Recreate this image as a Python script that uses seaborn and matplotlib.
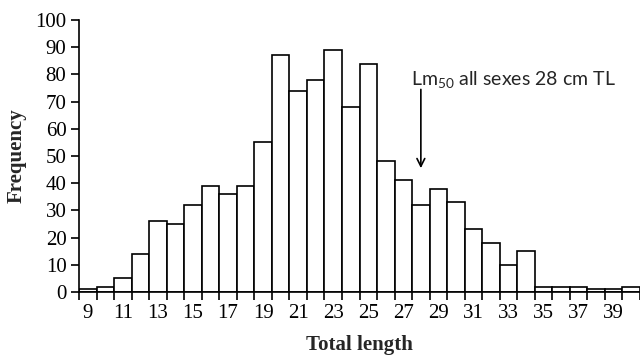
import matplotlib
matplotlib.use("Agg")
import matplotlib.pyplot as plt
import seaborn as sns
import pandas as pd
import numpy as np

lengths = list(range(9, 41))
frequency = [1, 2, 5, 14, 26, 25, 32, 39, 36, 39, 55, 87, 74, 78, 89, 68,
             84, 48, 41, 32, 38, 33, 23, 18, 10, 15, 2, 2, 2, 1, 1, 2]
tick_labels = [str(v) for v in range(9, 41, 2)]
annot_category = 28
annot_text = r"Lm$_{50}$ all sexes 28 cm TL"

sns.set_theme(style="white")
plt.rcParams['font.family'] = ['Liberation Serif', 'DejaVu Serif']
plt.rcParams['mathtext.fontset'] = 'custom'
plt.rcParams['mathtext.rm'] = 'Lato'
plt.rcParams['mathtext.it'] = 'Lato'

df = pd.DataFrame({"length": [str(v) for v in lengths], "freq": frequency})

fig = plt.figure(figsize=(6.4, 3.56), dpi=100)
ax = fig.add_axes([79/640, 1-292/356, 1-79/640, (292-20)/356])
sns.barplot(data=df, x="length", y="freq", order=[str(v) for v in lengths],
            color="white", edgecolor="black", linewidth=1.2, width=1.0,
            saturation=1, ax=ax)
for p in ax.patches:
    p.set_facecolor("white")

ax.set_xlim(-0.5, len(lengths) - 0.5)
ax.set_ylim(0, 100)
ax.set_yticks(np.arange(0, 101, 10))
major_pos = [lengths.index(int(t)) for t in tick_labels]
ax.set_xticks(major_pos)
ax.set_xticklabels(tick_labels)
ax.set_xticks(np.arange(-0.5, len(lengths), 1.0), minor=True)
ax.tick_params(axis="x", which="major", length=0, pad=9, labelsize=15, colors="black")
ax.tick_params(axis="x", which="minor", length=6, width=1.2, direction="out",
               bottom=True, color="black")
ax.tick_params(axis="y", which="major", length=6, width=1.2, direction="out",
               left=True, labelsize=15, pad=3, colors="black")
for s in ["top", "right"]:
    ax.spines[s].set_visible(False)
for s in ["left", "bottom"]:
    ax.spines[s].set_color("black")
    ax.spines[s].set_linewidth(1.2)

ax.set_xlabel("Total length", fontsize=15, fontweight="bold", labelpad=8)
ax.set_ylabel("Frequency", fontsize=15, fontweight="bold", labelpad=6)

xi = lengths.index(annot_category)
ax.annotate("", xy=(xi, 44.5), xytext=(xi, 75.5),
            arrowprops=dict(arrowstyle="->", color="black", lw=1.2, mutation_scale=14))
ax.text(xi - 0.55, 78, annot_text, fontsize=14, family="Lato", ha="left", va="center")

fig.savefig("out.png", dpi=100)
